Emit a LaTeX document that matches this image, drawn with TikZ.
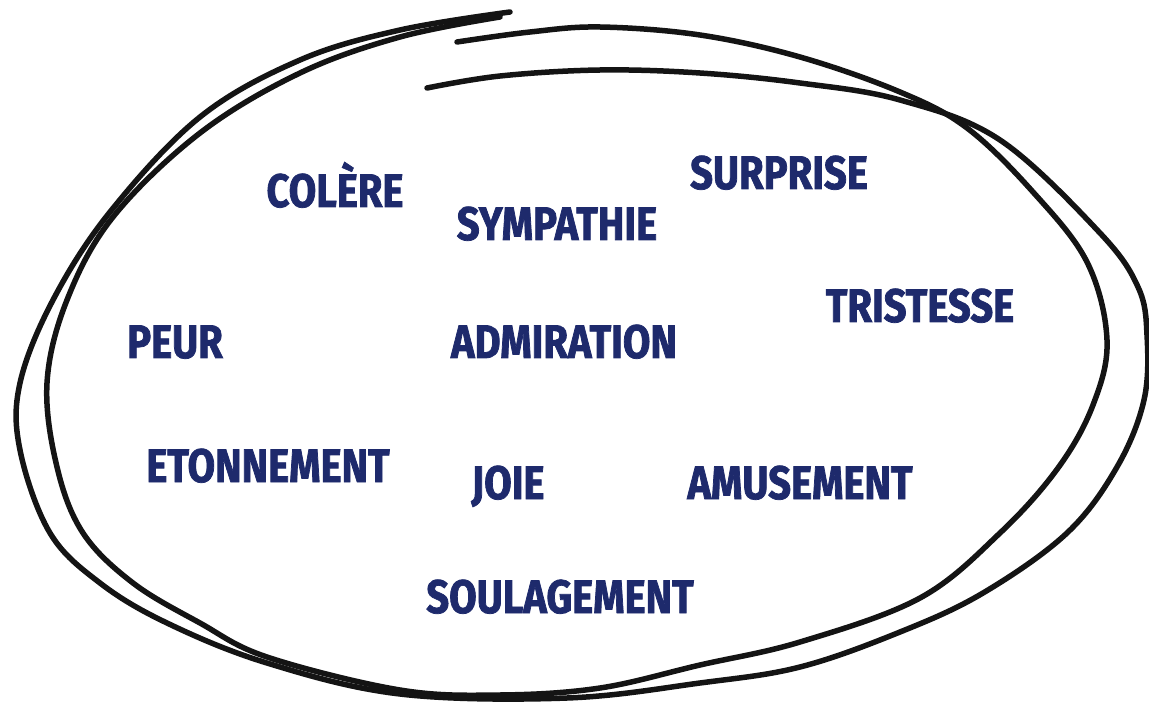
\documentclass[tikz,border=0pt]{standalone}
\usepackage{fontspec}
\newfontfamily\emofont{Fira Sans}[FakeStretch=0.85, BoldFeatures={FakeBold=1.6}]
\definecolor{inkNavy}{HTML}{1E2A6C}

\begin{document}
\begin{tikzpicture}[x=1pt, y=-1pt,
    emotion/.style={text=inkNavy, inner sep=0pt, anchor=base,
      font=\emofont\bfseries\fontsize{47}{50}\selectfont},
    pencil/.style={draw=black!92, line width=5.5pt, line cap=round, line join=round}]
  \useasboundingbox (0,0) rectangle (1149,703);
  % first loop, inner on the right
  \draw[pencil] plot[smooth, tension=0.6] coordinates {
    (457,42) (530,32) (600,27) (700,35) (800,57) (900,92) (967,128)
    (1033,192) (1087,262) (1107,340) (1093,405) (1058,468) (1000,533)
    (920,598) (800,642) (700,665) (600,688) (500,695) (400,690)
    (267,657) (200,623) (133,583) (83,533) (57,467) (47,383) (67,300)
    (113,217) (200,133) (300,73) (400,37) (500,17)};
  % second loop, outer on the right
  \draw[pencil] plot[smooth, tension=0.6] coordinates {
    (427,88) (500,76) (600,70) (700,73) (800,83) (900,100) (1000,140)
    (1100,233) (1138,287) (1147,335) (1144,400) (1117,467) (1067,533)
    (983,593) (900,632) (800,667) (700,683) (567,698) (400,694)
    (267,663) (167,623) (100,583) (50,533) (20,450) (20,383) (53,300)
    (110,212) (200,117) (300,60) (400,30) (510,12)};
  % emotions
  \node[emotion] (colere)      at (335,207) {COLÈRE};
  \node[emotion] (sympathie)   at (557,240) {SYMPATHIE};
  \node[emotion] (surprise)    at (779,189) {SURPRISE};
  \node[emotion] (tristesse)   at (920,322) {TRISTESSE};
  \node[emotion] (peur)        at (175,358) {PEUR};
  \node[emotion] (admiration)  at (564,358) {ADMIRATION};
  \node[emotion] (etonnement)  at (268,482) {ETONNEMENT};
  \node[emotion] (joie)        at (508,499) {JOIE};
  \node[emotion] (amusement)   at (800,499) {AMUSEMENT};
  \node[emotion] (soulagement) at (560,613) {SOULAGEMENT};
\end{tikzpicture}
\end{document}
